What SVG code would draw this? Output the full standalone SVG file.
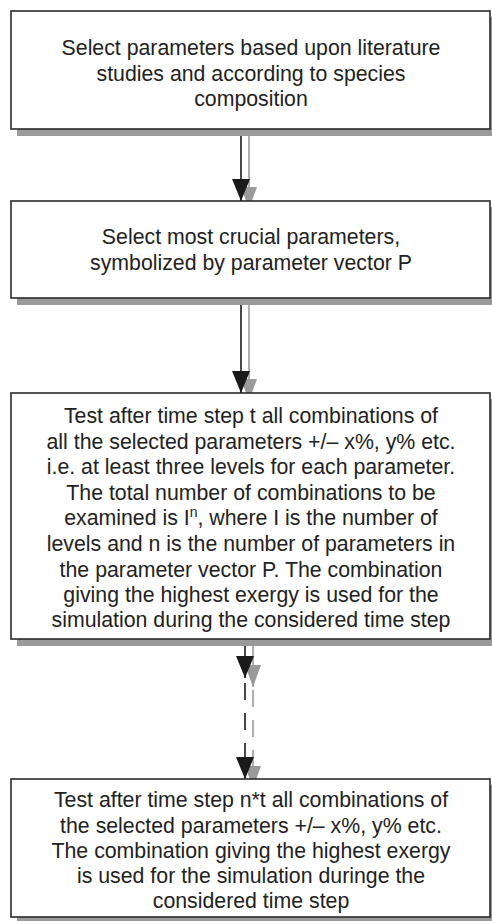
<svg xmlns="http://www.w3.org/2000/svg" width="492" height="921" viewBox="0 0 492 921">
  <defs>
    <style>
      .shadow { fill: #9a9a9a; }
      .box { fill: #ffffff; stroke: #2a2a2a; stroke-width: 1.6; }
      .label { font-family: "Liberation Sans", Arial, sans-serif; font-size: 21.3px; fill: #222222; text-anchor: middle; }
      .link-dark { stroke: #1a1a1a; stroke-width: 1.6; fill: none; }
      .link-grey { stroke: #9a9a9a; stroke-width: 1.6; fill: none; }
      .dashed { stroke-dasharray: 17 13; }
    </style>
    <marker id="head-dark" markerUnits="userSpaceOnUse" viewBox="0 0 18 22" markerWidth="18" markerHeight="22" refX="9" refY="22" orient="0">
      <path d="M0,0 L18,0 L9,22 Z" fill="#1a1a1a"/>
    </marker>
    <marker id="head-grey" markerUnits="userSpaceOnUse" viewBox="0 0 16 22" markerWidth="16" markerHeight="22" refX="8" refY="22" orient="0">
      <path d="M0,0 L16,0 L8,22 Z" fill="#9a9a9a"/>
    </marker>
  </defs>

  <rect width="492" height="921" fill="#ffffff"/>

  <!-- connectors: grey offset copies underneath, dark arrows on top -->
  <g id="connectors">
    <line class="link-grey" x1="249" y1="136" x2="249" y2="209" marker-end="url(#head-grey)"/>
    <line class="link-dark" x1="241" y1="129" x2="241" y2="201" marker-end="url(#head-dark)"/>

    <line class="link-grey" x1="249" y1="305" x2="249" y2="401" marker-end="url(#head-grey)"/>
    <line class="link-dark" x1="241" y1="298" x2="241" y2="393" marker-end="url(#head-dark)"/>

    <line class="link-grey" x1="253" y1="646" x2="253" y2="687" marker-end="url(#head-grey)"/>
    <line class="link-grey dashed" x1="253" y1="690" x2="253" y2="788" marker-end="url(#head-grey)"/>
    <line class="link-dark" x1="245" y1="639" x2="245" y2="678" marker-end="url(#head-dark)"/>
    <line class="link-dark dashed" x1="245" y1="683" x2="245" y2="779" marker-end="url(#head-dark)"/>
  </g>

  <g id="node-select-literature">
    <rect class="shadow" x="17" y="17" width="480" height="119"/>
    <rect class="box" x="11" y="11" width="479" height="118"/>
    <text class="label" x="251" y="55">Select parameters based upon literature</text>
    <text class="label" x="251" y="81">studies and according to species</text>
    <text class="label" x="251" y="106">composition</text>
  </g>

  <g id="node-select-crucial">
    <rect class="shadow" x="17" y="207" width="480" height="98"/>
    <rect class="box" x="11" y="201" width="479" height="97"/>
    <text class="label" x="251" y="244">Select most crucial parameters,</text>
    <text class="label" x="251" y="270">symbolized by parameter vector P</text>
  </g>

  <g id="node-test-step-t">
    <rect class="shadow" x="17" y="399" width="480" height="247"/>
    <rect class="box" x="11" y="393" width="479" height="246"/>
    <text class="label" x="251" y="423">Test after time step t all combinations of</text>
    <text class="label" x="251" y="449">all the selected parameters +/– x%, y% etc.</text>
    <text class="label" x="251" y="474">i.e. at least three levels for each parameter.</text>
    <text class="label" x="251" y="500">The total number of combinations to be</text>
    <text class="label" x="251" y="525">examined is I<tspan font-size="14" dy="-8">n</tspan><tspan dy="8">, where I is the number of</tspan></text>
    <text class="label" x="251" y="551">levels and n is the number of parameters in</text>
    <text class="label" x="251" y="577">the parameter vector P. The combination</text>
    <text class="label" x="251" y="602">giving the highest exergy is used for the</text>
    <text class="label" x="251" y="627">simulation during the considered time step</text>
  </g>

  <g id="node-test-step-nt">
    <rect class="shadow" x="17" y="785" width="480" height="139"/>
    <rect class="box" x="11" y="779" width="479" height="138"/>
    <text class="label" x="251" y="807">Test after time step n*t all combinations of</text>
    <text class="label" x="251" y="833">the selected parameters +/– x%, y% etc.</text>
    <text class="label" x="251" y="858">The combination giving the highest exergy</text>
    <text class="label" x="251" y="883">is used for the simulation duringe the</text>
    <text class="label" x="251" y="908">considered time step</text>
  </g>
</svg>
